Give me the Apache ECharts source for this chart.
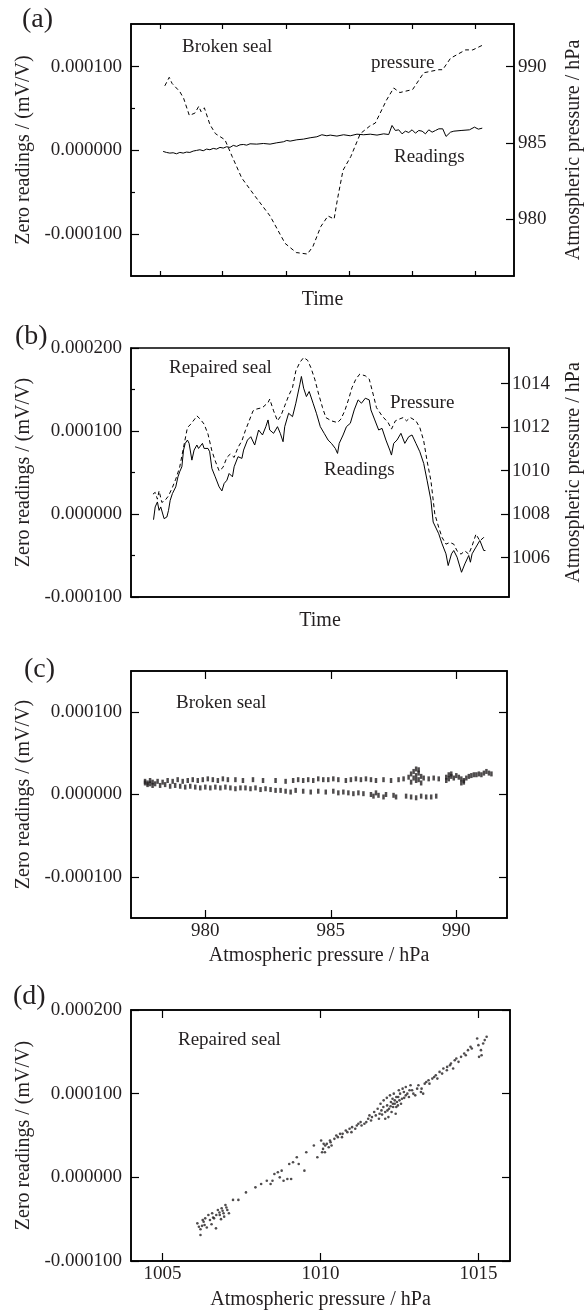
<!DOCTYPE html>
<html><head><meta charset="utf-8">
<script src="https://cdn.jsdelivr.net/npm/echarts@6/dist/echarts.min.js"></script>
<style>html,body{margin:0;padding:0;background:#fff}#c{width:585px;height:1311px}</style>
</head><body><div id="c"></div><script>
// ---------- DATA (readings in 1e-6 mV/V, pressure in hPa, time in days) ----------
const aReadTime = [-0.03,0.03,0.09,0.15,0.21,0.27,0.33,0.39,0.45,0.51,0.57,0.63,0.69,0.75,0.81,0.87,0.93,0.99,1.05,1.11,1.17,1.23,1.29,1.35,1.41,1.47,1.53,1.65,1.77,1.89,2.01,2.13,2.19,2.25,2.37,2.49,2.61,2.73,2.82,2.91,2.97,3.09,3.21,3.33,3.45,3.57,3.69,3.81,3.93,4.02,4.08,4.14,4.20,4.26,4.32,4.38,4.44,4.50,4.56,4.62,4.68,4.74,4.80,4.86,4.92,4.99,5.05,5.13,5.19,5.32,5.47,5.56,5.63,5.70];
const aReadValue = [-1.2,-2.4,-3.2,-2.8,-4.0,-2.4,-3.2,-2.0,-2.4,-0.8,0,0.8,-0.4,1.6,0.8,2.4,1.6,3.6,2.8,4.4,3.6,6.0,4.8,6.7,7.1,6.3,7.9,7.5,8.3,7.5,9.1,10.3,11.9,11.1,12.7,13.5,15.1,16.3,18.7,17.5,18.3,17.1,18.7,17.5,19.4,18.7,19.4,18.3,19.8,19.0,29.8,23.8,24.6,19.8,23.0,21.4,24.6,20.6,23.8,23.0,19.8,24.6,21.8,23.8,25.8,25.8,16.7,21.8,23.0,23.8,24.6,27.8,25.4,26.6];
const aPressTime = [0.00,0.08,0.13,0.27,0.34,0.44,0.54,0.61,0.65,0.71,0.81,0.91,1.08,1.21,1.38,1.62,1.89,2.16,2.36,2.56,2.66,2.80,2.93,3.04,3.10,3.20,3.34,3.51,3.68,3.78,3.98,4.11,4.22,4.45,4.65,4.92,4.99,5.13,5.40,5.53,5.70];
const aPressValue = [988.74,989.3,988.9,988.36,987.9,986.8,986.95,987.4,987.05,987.3,986.2,985.6,985.2,984.1,982.7,981.5,980.2,978.4,977.8,977.7,978.2,979.5,980.2,980.0,981.3,983.2,984.1,985.6,986.1,986.3,987.8,988.6,988.3,988.5,989.6,989.8,989.8,990.55,991.1,991.1,991.4];

const bReadTime = [0,0.03,0.07,0.10,0.13,0.19,0.24,0.27,0.30,0.34,0.37,0.40,0.44,0.47,0.51,0.54,0.57,0.61,0.64,0.67,0.69,0.73,0.78,0.81,0.84,0.88,0.91,0.98,1.01,1.05,1.11,1.18,1.23,1.27,1.32,1.36,1.42,1.45,1.52,1.59,1.62,1.69,1.75,1.82,1.89,1.96,2.02,2.06,2.09,2.16,2.23,2.28,2.33,2.36,2.43,2.50,2.56,2.63,2.66,2.70,2.75,2.80,2.87,2.93,3.00,3.07,3.14,3.20,3.27,3.31,3.34,3.41,3.47,3.54,3.61,3.68,3.74,3.81,3.88,3.91,3.98,4.05,4.11,4.18,4.25,4.28,4.32,4.38,4.45,4.52,4.59,4.65,4.72,4.79,4.86,4.92,4.99,5.03,5.06,5.13,5.19,5.26,5.30,5.36,5.40,5.46,5.54,5.60,5.67,5.70,5.73,5.80,5.87,5.94,5.97];
const bReadValue = [-6.9,8.5,14.5,4.4,8.5,-5.6,-3.6,4.4,16.5,24.6,26.6,32.7,44.8,50.8,56.9,77.0,85.1,89.1,85.1,87.1,64.9,77.0,83.1,79.0,81.0,85.1,79.0,79.0,75.0,54.8,44.8,32.7,27.8,36.7,40.7,48.8,44.8,56.9,69.0,67.0,77.0,89.1,93.1,83.1,101.2,95.2,105.2,113.3,101.2,97.2,105.2,97.2,87.1,105.2,121.4,117.3,133.5,155.6,165.7,151.6,141.5,147.6,133.5,121.4,105.2,97.2,89.1,85.1,79.0,73.0,85.1,95.2,105.2,109.3,125.4,137.5,133.5,139.5,137.5,125.4,113.3,101.2,103.2,89.1,77.0,71.0,85.1,89.1,97.2,85.1,93.1,95.2,85.1,75.0,60.9,40.7,16.5,-9.7,-7.7,-23.8,-35.9,-48.0,-62.1,-48.0,-44.0,-52.0,-70.2,-60.1,-50.0,-58.1,-48.0,-39.9,-31.9,-44.0,-44.0];
const bPressTime = [-0.01,0.03,0.07,0.10,0.15,0.20,0.27,0.34,0.40,0.47,0.54,0.61,0.67,0.74,0.78,0.84,0.91,0.98,1.05,1.11,1.18,1.25,1.32,1.38,1.45,1.52,1.59,1.65,1.72,1.79,1.85,1.96,2.06,2.09,2.16,2.23,2.29,2.36,2.43,2.50,2.56,2.63,2.70,2.77,2.83,2.90,2.97,3.04,3.10,3.20,3.31,3.37,3.44,3.51,3.57,3.64,3.71,3.81,3.88,3.95,4.01,4.11,4.22,4.28,4.35,4.42,4.49,4.55,4.62,4.72,4.79,4.86,4.92,4.99,5.06,5.13,5.19,5.26,5.33,5.40,5.46,5.53,5.60,5.67,5.73,5.80,5.87,5.94,5.97];
const bPressValue = [1008.92,1009.0,1008.69,1009.07,1008.54,1008.61,1008.84,1009.23,1009.61,1010.15,1011.07,1011.98,1012.14,1012.37,1012.52,1012.37,1012.14,1011.68,1010.91,1010.45,1009.99,1010.15,1010.61,1010.76,1010.61,1011.07,1011.37,1011.83,1012.29,1012.75,1012.83,1012.9,1013.13,1013.29,1012.75,1012.29,1012.52,1012.98,1013.44,1013.82,1014.59,1014.97,1015.2,1015.08,1014.74,1014.21,1013.52,1012.9,1012.44,1012.29,1012.21,1012.37,1012.75,1013.29,1013.82,1014.21,1014.44,1014.36,1014.21,1013.52,1012.9,1012.52,1012.21,1011.91,1012.29,1012.37,1012.44,1012.29,1012.44,1012.29,1011.98,1011.37,1010.45,1009.53,1008.0,1007.39,1006.93,1006.62,1006.7,1006.62,1006.31,1006.16,1006.31,1006.16,1006.54,1007.08,1006.77,1006.93,1006.85];

const cPressure = [977.6,977.7,977.8,977.9,978.1,978.3,978.5,978.7,978.9,979.1,979.3,979.5,979.7,979.9,980.1,980.3,980.5,980.7,980.9,981.2,981.5,981.9,982.3,982.8,983.2,983.5,983.7,983.9,984.1,984.3,984.5,984.7,984.9,985.1,985.3,985.6,985.8,986.0,986.2,986.4,986.6,986.8,987.1,987.4,987.7,987.9,988.1,988.2,988.3,988.4,988.5,988.5,988.6,988.7,988.9,989.1,989.3,989.6,989.7,989.8,989.9,990.0,990.1,990.2,990.3,990.4,990.5,990.6,990.7,990.8,990.9,991.0,991.1,991.2,991.3,991.4,988.2,988.3,988.4,988.5,988.6,988.4,989.6,989.7,989.8,990.2,990.3,
  977.6,977.7,977.8,977.9,978.0,978.2,978.4,978.6,978.8,979.0,979.2,979.4,979.6,979.8,980.0,980.2,980.4,980.6,980.8,981.0,981.2,981.4,981.6,981.8,982.0,982.2,982.4,982.6,982.8,983.0,983.2,983.4,983.6,983.9,984.2,984.5,984.8,985.1,985.3,985.5,985.7,985.9,986.1,986.3,986.6,986.7,986.8,986.9,987.1,987.2,987.5,987.6,988.0,988.2,988.4,988.6,988.8,989.0,989.2];
const cReading = [16,14,17,15,16,15,17,16,18,16,17,18,17,18,19,18,17,19,18,18,17,18,17,17,16,17,18,17,18,17,19,18,18,19,18,17,18,19,18,19,18,17,18,17,18,19,21,25,28,23,18,30,22,20,19,20,19,21,24,22,20,23,21,19,17,20,22,23,24,24,25,24,26,28,26,25,15,20,31,26,14,17,17,19,25,14,15,
  14,12,13,11,13,11,12,10,11,10,9,10,9,8,9,8,9,8,9,8,7,8,8,7,8,6,7,6,5,5,4,3,5,4,3,4,3,4,2,3,2,1,2,1,0,-2,2,-1,-3,0,-1,-3,-2,-3,-4,-2,-3,-3,-2];

const dPressure = [1006.1,1006.15,1006.2,1006.2,1006.27,1006.3,1006.33,1006.4,1006.45,1006.5,1006.55,1006.57,1006.6,1006.63,1006.69,1006.7,1006.75,1006.8,1006.81,1006.85,1006.87,1006.9,1006.93,1006.95,1006.99,1007.02,1007.05,1007.1,1006.25,1006.35,
  1007.23,1007.4,1007.64,1007.94,1008.12,1008.3,1008.42,1008.48,1008.54,1008.65,1008.71,1008.77,1008.83,1008.95,1009.07,1009.01,1009.13,1009.25,1009.31,1009.49,1009.55,1009.79,
  1009.9,1010.02,1010.08,1010.14,1010.2,1010.26,1010.32,1010.44,1010.5,1010.62,1010.68,1010.8,1010.92,1010.98,1011.15,1011.27,1011.39,1011.51,1011.63,1011.75,1011.81,1011.87,1011.93,1011.99,1012.05,1012.11,1012.17,1012.23,1012.29,1012.35,1012.4,1012.46,1012.52,1012.58,1012.64,1012.7,1012.82,1012.94,1013.06,1013.18,1013.3,1013.42,1013.54,1013.65,1013.77,1013.89,1014.01,1014.13,1014.25,1014.37,1014.55,1014.67,1014.79,1014.96,1015.02,1015.08,1015.2,1015.26,
  1011.85,1011.9,1011.95,1012.0,1012.05,1012.1,1012.12,1012.15,1012.2,1012.22,1012.25,1012.28,1012.3,1012.32,1012.35,1012.38,1012.4,1012.42,1012.45,1012.48,1012.5,1012.55,1012.6,1012.65,1012.7,1012.75,1012.8,1012.85,1012.9,1013.0,1013.1,1013.2,1013.25,1013.35,1013.45,1013.6,1013.7,1013.85,1014.0,1014.1,1014.2,1014.3,1014.45,1014.6,1014.75,1015.0,1015.1,1015.15,
  1010.05,1010.1,1010.15,1010.3,1010.35,1010.55,1010.7,1010.85,1011.0,1011.1,1011.2,1011.3,1011.45,1011.55,1011.6,1011.7];
const dReading = [-55,-59,-69,-62,-51,-53,-57,-60,-45,-51,-56,-43,-48,-49,-61,-45,-39,-42,-45,-50,-37,-40,-43,-47,-33,-36,-39,-43,-58,-49,
  -27,-27,-18,-12,-8,-4,-8,-4,4,6,0,8,-4,-2,-2,16,18,24,16,8,30,38,
  24,44,34,30,40,36,42,46,50,52,48,56,58,54,62,66,64,70,72,74,82,76,80,84,78,86,82,90,88,92,84,96,100,94,102,98,104,100,106,102,112,116,118,122,126,130,132,136,140,138,148,152,154,166,144,152,164,168,
  70,88,75,92,70,95,80,72,98,85,78,94,84,100,88,76,96,90,86,104,92,88,106,95,108,100,96,110,104,98,110,106,100,114,112,120,118,124,128,134,130,142,144,146,156,158,146,160,
  30,40,38,44,38,48,52,54,60,58,64,62,66,74,68,78];

// tick lists
const leftTicksA = [-100, 0, 100], leftMinorA = [-50, 50];
const rightTicksA = [980, 985, 990];
const leftTicksB = [-100, 0, 100, 200], leftMinorB = [-50, 50, 150];
const rightTicksB = [1006, 1008, 1010, 1012, 1014];
const timeTicksA = [-0.09, 1.04, 2.18, 3.31, 4.44, 5.58];
const xTicksC = [980, 985, 990];
const xTicksD = [1005, 1010, 1015];

// ---------- CHART ----------
const FONT = '"Liberation Serif", "Times New Roman", serif';
const INK = '#231f20';
const zip = (xs, ys) => xs.map((x, i) => [x, ys[i]]);
const fmtY = v => (v / 1e6).toFixed(6);

function ax(o) {
  const base = {
    type: 'value', scale: true,
    splitLine: { show: false },
    axisLine: { show: true, onZero: false, lineStyle: { color: '#000', width: 1.5 } },
    axisTick: { show: false },
    axisLabel: { show: false },
    nameTextStyle: { fontFamily: FONT, fontSize: 20, color: INK },
    nameLocation: 'middle'
  };
  return Object.assign(base, o);
}
const noLine = { show: false, onZero: false };
function ticks(vals, len) {
  return { show: true, inside: true, length: len, customValues: vals, lineStyle: { color: '#000', width: 1.2 } };
}
function labels(vals, fmt, margin) {
  return { show: true, customValues: vals, formatter: fmt, margin: margin, fontFamily: FONT, fontSize: 19, color: INK, showMinLabel: true, showMaxLabel: true };
}

const grids = [
  { left: 131, top: 24, width: 383, height: 252 },
  { left: 131, top: 348, width: 378, height: 249 },
  { left: 131, top: 671, width: 376, height: 247 },
  { left: 131, top: 1010, width: 379, height: 251 }
].map(g => Object.assign(g, { show: true, borderColor: '#000', borderWidth: 1.5, backgroundColor: 'transparent', containLabel: false, outerBoundsMode: 'none' }));

const xAxis = [
  ax({ gridIndex: 0, min: -0.607, max: 6.27, axisTick: ticks(timeTicksA, 5), name: 'Time', nameGap: 14 }),
  ax({ gridIndex: 0, min: -0.607, max: 6.27, position: 'top', axisTick: ticks(timeTicksA, 5) }),
  ax({ gridIndex: 1, min: -0.405, max: 6.394, name: 'Time', nameGap: 14 }),
  ax({ gridIndex: 2, min: 977.04, max: 992.02, axisTick: ticks(xTicksC, 8), axisLabel: labels(xTicksC, v => String(v), 4), name: 'Atmospheric pressure / hPa', nameGap: 28 }),
  ax({ gridIndex: 2, min: 977.04, max: 992.02, position: 'top', axisTick: ticks(xTicksC, 8) }),
  ax({ gridIndex: 3, min: 1004, max: 1016, axisTick: ticks(xTicksD, 8), axisLabel: labels(xTicksD, v => String(v), 4), name: 'Atmospheric pressure / hPa', nameGap: 29 }),
  ax({ gridIndex: 3, min: 1004, max: 1016, position: 'top', axisTick: ticks(xTicksD, 8) })
];

const yAxis = [
  ax({ gridIndex: 0, min: -150, max: 151, position: 'left', axisTick: ticks(leftTicksA, 8), axisLabel: labels(leftTicksA, fmtY, 9), name: 'Zero readings / (mV/V)', nameGap: 83 }),
  ax({ gridIndex: 0, min: -150, max: 151, position: 'left', axisLine: noLine, axisTick: ticks(leftMinorA, 4) }),
  ax({ gridIndex: 0, min: 976.26, max: 992.8, position: 'right', axisTick: ticks(rightTicksA, 8), axisLabel: labels(rightTicksA, v => String(v), 4), name: 'Atmospheric pressure / hPa', nameGap: 50 }),
  ax({ gridIndex: 1, min: -100, max: 200, position: 'left', axisTick: ticks(leftTicksB, 8), axisLabel: labels(leftTicksB, fmtY, 9), name: 'Zero readings / (mV/V)', nameGap: 83 }),
  ax({ gridIndex: 1, min: -100, max: 200, position: 'left', axisLine: noLine, axisTick: ticks(leftMinorB, 4) }),
  ax({ gridIndex: 1, min: 1004.19, max: 1015.64, position: 'right', axisTick: ticks(rightTicksB, 8), axisLabel: labels(rightTicksB, v => String(v), 3), name: 'Atmospheric pressure / hPa', nameGap: 55 }),
  ax({ gridIndex: 2, min: -150, max: 150, position: 'left', axisTick: ticks(leftTicksA, 8), axisLabel: labels(leftTicksA, fmtY, 9), name: 'Zero readings / (mV/V)', nameGap: 83 }),
  ax({ gridIndex: 2, min: -150, max: 150, position: 'right', axisTick: ticks(leftTicksA, 8) }),
  ax({ gridIndex: 3, min: -100, max: 200, position: 'left', axisTick: ticks(leftTicksB, 8), axisLabel: labels(leftTicksB, fmtY, 9), name: 'Zero readings / (mV/V)', nameGap: 83 }),
  ax({ gridIndex: 3, min: -100, max: 200, position: 'right', axisTick: ticks(leftTicksB, 8) })
];

const solid = { color: '#000', width: 1 };
const dashed = { color: '#000', width: 1, type: [4, 3] };
const series = [
  { type: 'line', xAxisIndex: 0, yAxisIndex: 0, data: zip(aReadTime, aReadValue), showSymbol: false, lineStyle: solid, silent: true, animation: false },
  { type: 'line', xAxisIndex: 0, yAxisIndex: 2, data: zip(aPressTime, aPressValue), showSymbol: false, lineStyle: dashed, silent: true, animation: false },
  { type: 'line', xAxisIndex: 2, yAxisIndex: 3, data: zip(bReadTime, bReadValue), showSymbol: false, lineStyle: solid, silent: true, animation: false },
  { type: 'line', xAxisIndex: 2, yAxisIndex: 5, data: zip(bPressTime, bPressValue), showSymbol: false, lineStyle: dashed, silent: true, animation: false },
  { type: 'scatter', xAxisIndex: 3, yAxisIndex: 6, data: zip(cPressure, cReading), symbol: 'rect', symbolSize: [2.5, 5], itemStyle: { color: '#231f20' }, silent: true, animation: false },
  { type: 'scatter', xAxisIndex: 5, yAxisIndex: 8, data: zip(dPressure, dReading), symbol: 'circle', symbolSize: 2.6, itemStyle: { color: '#231f20' }, silent: true, animation: false }
];

function txt(text, x, y, size, align) {
  return { type: 'text', x: x, y: y, silent: true, style: { text: text, font: size + 'px ' + FONT, fill: INK, align: align || 'left', verticalAlign: 'middle' } };
}
const graphic = [
  txt('(a)', 22, 20, 28), txt('(b)', 15, 337, 28), txt('(c)', 24, 670, 28), txt('(d)', 13, 997, 28),
  txt('Broken seal', 182, 47, 19), txt('pressure', 371, 63, 19), txt('Readings', 394, 157, 19),
  txt('Repaired seal', 169, 368, 19), txt('Pressure', 390, 403, 19), txt('Readings', 324, 470, 19),
  txt('Broken seal', 176, 703, 19), txt('Repaired seal', 178, 1040, 19)
];

const chart = echarts.init(document.getElementById('c'), null, { renderer: 'canvas' });
chart.setOption({ backgroundColor: '#fff', animation: false, grid: grids, xAxis: xAxis, yAxis: yAxis, series: series, graphic: graphic });
</script></body></html>
